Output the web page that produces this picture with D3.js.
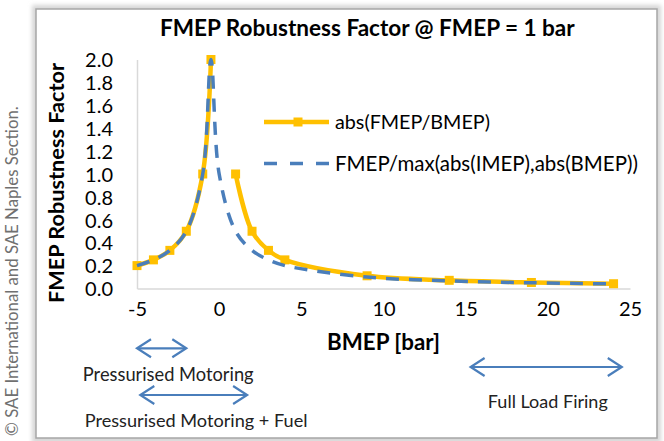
<!DOCTYPE html>
<html>
<head>
<meta charset="utf-8">
<script src="https://cdn.jsdelivr.net/npm/d3@7"></script>
<style>
  body { margin: 0; background: #fff; }
  svg { display: block; }
  text { font-family: Lato, "Open Sans", "Liberation Sans", sans-serif; }
</style>
</head>
<body>
<svg id="chart" width="664" height="441"></svg>
<script>
// BMEP sweep [bar] at FMEP = 1 bar
const bmep = [-5, -4, -3, -2, -1, -0.5, 0, 1, 2, 3, 4, 9, 14, 19, 24];
// abs(FMEP/BMEP) — undefined at BMEP = 0
const ratioBmep = [0.2, 0.25, 0.333, 0.5, 1.0, 2.0, null, 1.0, 0.5, 0.333, 0.25, 0.111, 0.0714, 0.0526, 0.0417];
// FMEP/max(abs(IMEP),abs(BMEP)), IMEP = BMEP + FMEP
const ratioMax = [0.2, 0.25, 0.333, 0.5, 1.0, 2.0, 1.0, 0.5, 0.333, 0.25, 0.2, 0.1, 0.0667, 0.05, 0.04];
const seriesNames = ["abs(FMEP/BMEP)", "FMEP/max(abs(IMEP),abs(BMEP))"];
const xTicks = [-5, 0, 5, 10, 15, 20, 25];
const yTicks = [0, 0.2, 0.4, 0.6, 0.8, 1.0, 1.2, 1.4, 1.6, 1.8, 2.0];
// operating regions, BMEP from / to
const regionNames = ["Pressurised Motoring", "Pressurised Motoring + Fuel", "Full Load Firing"];
const regionFrom = [-5, -4.8, 15.3];
const regionTo = [-2, 1.7, 24.5];
const regionLabelAt = [-3.1, -1.4, 20];

const ORANGE = "#FFC000", BLUE = "#4A7EBB", AXIS = "#D9D9D9";
const svg = d3.select("#chart");

// frame with a soft halo
const defs = svg.append("defs");
const f = defs.append("filter").attr("id", "halo").attr("x", "-5%").attr("y", "-5%").attr("width", "110%").attr("height", "110%");
f.append("feGaussianBlur").attr("stdDeviation", 2.2);
svg.append("rect").attr("x", 32).attr("y", 5).attr("width", 629).attr("height", 438)
  .attr("fill", "#d6d6d6").attr("filter", "url(#halo)");
svg.append("rect").attr("x", 36).attr("y", 9).attr("width", 621).attr("height", 429)
  .attr("fill", "#fff").attr("stroke", "#a6a6a6").attr("stroke-width", 1.5);

const x = d3.scaleLinear().domain([-5, 25]).range([137, 630]);
const y = d3.scaleLinear().domain([0, 2]).range([288.5, 59.5]);

function fit(sel, w) {
  const fs = parseFloat(sel.attr("font-size"));
  const len = sel.node().getComputedTextLength();
  sel.attr("font-size", (fs * w / len).toFixed(2));
  return sel;
}

// axes
const xAxis = svg.append("g").attr("transform", `translate(0,${y(0)})`)
  .call(d3.axisBottom(x).tickValues(xTicks).tickSize(0).tickPadding(24).tickFormat(d3.format("d")));
const yAxis = svg.append("g").attr("transform", `translate(${x(-5)},0)`)
  .call(d3.axisLeft(y).tickValues(yTicks).tickSize(0).tickPadding(24).tickFormat(d3.format(".1f")));
[xAxis, yAxis].forEach(g => {
  g.select(".domain").attr("stroke", AXIS).attr("stroke-width", 1.5);
  g.selectAll("text").attr("font-family", "Lato, sans-serif").attr("font-size", 20).attr("fill", "#000");
});
xAxis.selectAll("text").attr("dy", "0.71em").attr("y", 13.5);
yAxis.selectAll("text").attr("dy", "0.36em");
// minus sign as hyphen
xAxis.selectAll("text").text(d => String(d));

// series
const pts1 = bmep.map((b, i) => [b, ratioBmep[i]]);
const pts2 = bmep.map((b, i) => [b, ratioMax[i]]);
const line = d3.line().defined(d => d[1] != null)
  .x(d => x(d[0])).y(d => y(d[1])).curve(d3.curveCatmullRom.alpha(0.5));

svg.append("path").attr("d", line(pts1)).attr("fill", "none")
  .attr("stroke", ORANGE).attr("stroke-width", 4.5).attr("stroke-linejoin", "round");
const M = 9;
svg.append("g").selectAll("rect").data(pts1.filter(d => d[1] != null)).join("rect")
  .attr("x", d => x(d[0]) - M / 2).attr("y", d => y(d[1]) - M / 2)
  .attr("width", M).attr("height", M).attr("fill", ORANGE);

svg.append("path").attr("d", line(pts2)).attr("fill", "none")
  .attr("stroke", BLUE).attr("stroke-width", 3.5).attr("stroke-dasharray", "13,10");

// legend
const lg = svg.append("g");
lg.append("line").attr("x1", 264).attr("x2", 329).attr("y1", 122).attr("y2", 122)
  .attr("stroke", ORANGE).attr("stroke-width", 4.5);
lg.append("rect").attr("x", 298 - M / 2).attr("y", 122 - M / 2).attr("width", M).attr("height", M).attr("fill", ORANGE);
lg.append("line").attr("x1", 264).attr("x2", 329).attr("y1", 163.5).attr("y2", 163.5)
  .attr("stroke", BLUE).attr("stroke-width", 3.5).attr("stroke-dasharray", "13,13");
fit(lg.append("text").attr("x", 335).attr("y", 129).attr("font-size", 20).attr("fill", "#000").text(seriesNames[0]), 155);
fit(lg.append("text").attr("x", 335).attr("y", 170.5).attr("font-size", 20).attr("fill", "#000").text(seriesNames[1]), 303);

// titles
fit(svg.append("text").attr("x", 160).attr("y", 35.7).attr("font-size", 20).attr("font-weight", "bold")
  .attr("fill", "#000").text("FMEP Robustness Factor @ FMEP = 1 bar"), 415);
fit(svg.append("text").attr("transform", "translate(64,183) rotate(-90)").attr("text-anchor", "middle")
  .attr("font-size", 20).attr("font-weight", "bold").attr("fill", "#000").text("FMEP Robustness Factor"), 240);
fit(svg.append("text").attr("x", (x(-5) + x(25)) / 2).attr("y", 350).attr("text-anchor", "middle")
  .attr("font-size", 20).attr("font-weight", "bold").attr("fill", "#000").text("BMEP [bar]"), 113);

// operating region arrows
const arrowY = [348.3, 395, 367];
const labelY = [380.7, 426.7, 408];
const labelW = [171, 223, 120];
const HL = 14, HW = 9;
regionNames.forEach((name, i) => {
  const x1 = x(regionFrom[i]), x2 = x(regionTo[i]), ay = arrowY[i];
  const g = svg.append("g").attr("fill", "none").attr("stroke", BLUE).attr("stroke-width", 2.2)
    .attr("stroke-linejoin", "miter");
  g.append("line").attr("x1", x1 + 1).attr("x2", x2 - 1).attr("y1", ay).attr("y2", ay);
  g.append("polyline").attr("points", `${x1 + HL},${ay - HW} ${x1},${ay} ${x1 + HL},${ay + HW}`);
  g.append("polyline").attr("points", `${x2 - HL},${ay - HW} ${x2},${ay} ${x2 - HL},${ay + HW}`);
  fit(svg.append("text").attr("x", x(regionLabelAt[i])).attr("y", labelY[i]).attr("text-anchor", "middle")
    .attr("font-size", 16).attr("fill", "#222").text(name), labelW[i]);
});

// copyright note along the left edge
fit(svg.append("text").attr("transform", "translate(18,436) rotate(-90)")
  .attr("font-size", 14).attr("fill", "#707070").text("© SAE International and SAE Naples Section."), 330);
</script>
</body>
</html>
